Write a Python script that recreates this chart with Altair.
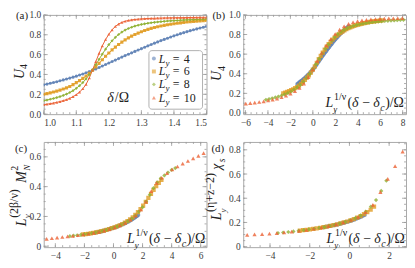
import altair as alt
import pandas as pd

FONT = "Liberation Serif"
TXT = "#222222"
LAB = "#3a3a3a"
FRAME = "#a8a8a8"
TICK = "#9a9a9a"

LY = ["4", "6", "8", "10"]
COLORS = ["#5E81B5", "#E19C24", "#8FB032", "#EB6235"]
SHAPES = ["circle", "square", "diamond", "triangle-up"]

# ---------------- panel (a): U4 vs delta/Omega ----------------
DELTA = [round(1.0 + 0.01 * i, 2) for i in range(51)]
U4 = {
    "4": [0.295, 0.303, 0.311, 0.319, 0.327, 0.336, 0.345, 0.354, 0.363, 0.373,
          0.383, 0.394, 0.405, 0.417, 0.429, 0.442, 0.456, 0.470, 0.485, 0.500,
          0.515, 0.530, 0.545, 0.560, 0.575, 0.590, 0.604, 0.618, 0.632, 0.646,
          0.660, 0.674, 0.688, 0.702, 0.715, 0.728, 0.741, 0.753, 0.765, 0.777,
          0.789, 0.800, 0.811, 0.821, 0.831, 0.841, 0.850, 0.859, 0.868, 0.876,
          0.884],
    "6": [0.200, 0.207, 0.215, 0.223, 0.232, 0.242, 0.253, 0.265, 0.279, 0.297,
          0.318, 0.338, 0.360, 0.384, 0.411, 0.442, 0.476, 0.512, 0.548, 0.583,
          0.616, 0.647, 0.676, 0.702, 0.726, 0.748, 0.768, 0.786, 0.802, 0.817,
          0.830, 0.843, 0.854, 0.864, 0.873, 0.881, 0.888, 0.895, 0.901, 0.906,
          0.911, 0.916, 0.920, 0.924, 0.928, 0.931, 0.934, 0.937, 0.940, 0.942,
          0.945],
    "8": [0.135, 0.142, 0.150, 0.158, 0.167, 0.177, 0.189, 0.202, 0.218, 0.237,
          0.260, 0.287, 0.318, 0.355, 0.398, 0.446, 0.498, 0.552, 0.605, 0.655,
          0.700, 0.740, 0.774, 0.803, 0.827, 0.847, 0.863, 0.876, 0.887, 0.896,
          0.904, 0.910, 0.916, 0.921, 0.925, 0.929, 0.932, 0.935, 0.938, 0.940,
          0.942, 0.944, 0.946, 0.948, 0.950, 0.951, 0.953, 0.954, 0.955, 0.957,
          0.958],
    "10": [0.095, 0.100, 0.106, 0.112, 0.119, 0.127, 0.136, 0.147, 0.160, 0.176,
           0.196, 0.222, 0.256, 0.300, 0.365, 0.445, 0.530, 0.612, 0.688, 0.752,
           0.805, 0.850, 0.884, 0.908, 0.925, 0.936, 0.944, 0.950, 0.954, 0.957,
           0.960, 0.962, 0.964, 0.965, 0.966, 0.967, 0.968, 0.969, 0.970, 0.971,
           0.971, 0.972, 0.972, 0.973, 0.973, 0.974, 0.974, 0.975, 0.975, 0.976,
           0.976],
}

# ---------------- panel (b): scaling collapse of U4 ----------------
NU_INV = 1.6      # 1/nu read from the collapse
DELTA_C = 1.15    # crossing point delta_c / Omega

# ---------------- panel (c): L^(2beta/nu) M_N^2 ----------------
C_X = {
    "4": [-1.2, -1.1, -1.0, -0.9, -0.8, -0.7, -0.6, -0.5, -0.4, -0.3, -0.2, -0.1, 0.0,
          0.1, 0.2, 0.3, 0.4, 0.5, 0.6, 0.7, 0.8, 0.9, 1.0, 1.1, 1.2, 1.3, 1.4, 1.5, 1.6, 1.7],
    "6": [-2.1, -1.92, -1.74, -1.56, -1.38, -1.2, -1.02, -0.84, -0.66, -0.48, -0.3, -0.12,
          0.06, 0.24, 0.42, 0.6, 0.78, 0.96, 1.14, 1.32, 1.5, 1.68, 1.86, 2.04, 2.22, 2.4,
          2.58, 2.76, 2.94, 3.12, 3.3],
    "8": [-3.0, -2.75, -2.5, -2.25, -2.0, -1.75, -1.5, -1.25, -1.0, -0.75, -0.5, -0.25,
          0.0, 0.25, 0.5, 0.75, 1.0, 1.25, 1.5, 1.75, 2.0, 2.25, 2.5, 2.75, 3.0, 3.25,
          3.5, 3.75, 4.0, 4.25],
    "10": [-4.6, -4.24, -3.88, -3.52, -3.16, -2.8, -2.44, -2.08, -1.72, -1.36, -1.0,
           -0.64, -0.28, 0.08, 0.44, 0.8, 1.16, 1.52, 1.88, 2.24, 2.6, 2.96, 3.32, 3.68,
           4.04, 4.4, 4.76, 5.12, 5.48, 5.84, 6.2],
}
C_Y = {
    "4": [0.092, 0.094, 0.096, 0.098, 0.100, 0.103, 0.106, 0.109, 0.112, 0.115, 0.118,
          0.121, 0.124, 0.127, 0.130, 0.134, 0.138, 0.142, 0.146, 0.150, 0.155, 0.160,
          0.165, 0.170, 0.176, 0.182, 0.188, 0.195, 0.202, 0.209],
    "6": [0.080, 0.082, 0.084, 0.087, 0.090, 0.093, 0.097, 0.101, 0.105, 0.110, 0.115,
          0.121, 0.127, 0.134, 0.141, 0.149, 0.158, 0.168, 0.180, 0.194, 0.210, 0.229,
          0.250, 0.273, 0.298, 0.325, 0.352, 0.378, 0.403, 0.425, 0.445],
    "8": [0.068, 0.071, 0.074, 0.077, 0.080, 0.084, 0.088, 0.092, 0.097, 0.103, 0.109,
          0.116, 0.124, 0.133, 0.143, 0.155, 0.168, 0.185, 0.205, 0.232, 0.262, 0.300,
          0.345, 0.390, 0.428, 0.455, 0.475, 0.495, 0.512, 0.525],
    "10": [0.050, 0.054, 0.058, 0.062, 0.066, 0.070, 0.074, 0.079, 0.084, 0.090, 0.097,
           0.105, 0.115, 0.127, 0.140, 0.156, 0.178, 0.205, 0.245, 0.300, 0.370, 0.425,
           0.460, 0.490, 0.515, 0.535, 0.555, 0.572, 0.590, 0.607, 0.625],
}

# ---------------- panel (d): L^(eta+z-2) chi_s ----------------
D_X = {
    "4": [-1.3, -1.21, -1.12, -1.03, -0.94, -0.85, -0.76, -0.67, -0.58, -0.49, -0.4,
          -0.31, -0.22, -0.13, -0.04, 0.05, 0.14, 0.23, 0.32, 0.41, 0.5, 0.59, 0.68, 0.77],
    "6": [-2.5, -2.33, -2.16, -1.99, -1.82, -1.65, -1.48, -1.31, -1.14, -0.97, -0.8,
          -0.63, -0.46, -0.29, -0.12, 0.05, 0.22, 0.39, 0.56, 0.73, 0.9, 1.07, 1.24],
    "8": [-3.6, -3.34, -3.08, -2.82, -2.56, -2.3, -2.04, -1.78, -1.52, -1.26, -1.0,
          -0.74, -0.48, -0.22, 0.04, 0.3, 0.56, 0.82, 1.08, 1.34, 1.6, 1.86],
    "10": [-5.15, -4.78, -4.40, -4.03, -3.66, -3.29, -2.91, -2.54, -2.17, -1.80, -1.42,
           -1.05, -0.68, -0.31, 0.07, 0.44, 0.81, 1.18, 1.56, 1.93, 2.30, 2.68],
}
D_Y = {
    "4": [0.160, 0.163, 0.166, 0.169, 0.172, 0.175, 0.178, 0.181, 0.184, 0.188, 0.192,
          0.196, 0.200, 0.204, 0.208, 0.213, 0.218, 0.223, 0.229, 0.235, 0.241, 0.248,
          0.255, 0.262],
    "6": [0.133, 0.136, 0.139, 0.143, 0.147, 0.151, 0.156, 0.161, 0.166, 0.172, 0.178,
          0.185, 0.192, 0.200, 0.208, 0.218, 0.228, 0.240, 0.253, 0.268, 0.285, 0.305,
          0.330],
    "8": [0.113, 0.117, 0.121, 0.126, 0.131, 0.136, 0.142, 0.148, 0.155, 0.162, 0.171,
          0.180, 0.191, 0.203, 0.218, 0.236, 0.258, 0.290, 0.330, 0.385, 0.460, 0.545],
    "10": [0.098, 0.101, 0.104, 0.108, 0.112, 0.118, 0.124, 0.131, 0.139, 0.148, 0.158,
           0.170, 0.184, 0.200, 0.220, 0.245, 0.285, 0.345, 0.450, 0.560, 0.665, 0.785],
}

# ---------------- tables ----------------
rows_a, rows_b, rows_c, rows_d = [], [], [], []
for ly in LY:
    for d, u in zip(DELTA, U4[ly]):
        rows_a.append({"x": d, "y": u, "Ly": ly})
        xs = (int(ly) ** NU_INV) * (d - DELTA_C)
        if -6.2 <= xs <= 8.3:
            rows_b.append({"x": xs, "y": u, "Ly": ly})
    for xv, yv in zip(C_X[ly], C_Y[ly]):
        rows_c.append({"x": xv, "y": yv, "Ly": ly})
    for xv, yv in zip(D_X[ly], D_Y[ly]):
        rows_d.append({"x": xv, "y": yv, "Ly": ly})
df_a, df_b, df_c, df_d = (pd.DataFrame(r) for r in (rows_a, rows_b, rows_c, rows_d))
ONE = pd.DataFrame({"k": [0]})

W = 164
H1, H2 = 100, 106


def ticks_in(lo, hi, step, dom):
    n = int(round((hi - lo) / step))
    return [round(lo + step * i, 4) for i in range(n + 1) if dom[0] <= lo + step * i <= dom[1]]


def texts(pieces, x0, y0, rotate=False):
    out = []
    for t, dx, dy, size, it in pieces:
        if rotate:
            px, py, ang = x0 + dy, y0 - dx, 270
        else:
            px, py, ang = x0 + dx, y0 + dy, 0
        out.append(
            alt.Chart(ONE).mark_text(
                text=t, font=FONT, fontSize=size, fontStyle="italic" if it else "normal",
                align="left", baseline="alphabetic", angle=ang, color=TXT,
            ).encode(x=alt.value(px), y=alt.value(py))
        )
    return out


def panel(df, xdom, ydom, xmaj, xmin, ymaj, ymin, H, xlab, ylab, lines=False, msize=18, mop=0.8):
    X = alt.X("x:Q", scale=alt.Scale(domain=xdom, nice=False, zero=False),
              axis=alt.Axis(values=xmaj, labelExpr=xlab, title=None, labelFont=FONT,
                            labelFontSize=9.5, labelColor=LAB))
    Y = alt.Y("y:Q", scale=alt.Scale(domain=ydom, nice=False, zero=False),
              axis=alt.Axis(values=ymaj, labelExpr=ylab, title=None, labelFont=FONT,
                            labelFontSize=9.5, labelColor=LAB))
    col = alt.Color("Ly:N", scale=alt.Scale(domain=LY, range=COLORS), legend=None)
    shp = alt.Shape("Ly:N", scale=alt.Scale(domain=LY, range=SHAPES), legend=None)
    layers = []
    for vals, L in ((xmaj, 4), (xmin, 2)):
        base = alt.Chart(pd.DataFrame({"x": vals})).mark_rule(color=TICK, strokeWidth=0.8)
        layers.append(base.encode(x=X, y=alt.value(H), y2=alt.value(H - L)))
        layers.append(base.encode(x=X, y=alt.value(0), y2=alt.value(L)))
    for vals, L in ((ymaj, 4), (ymin, 2)):
        base = alt.Chart(pd.DataFrame({"y": vals})).mark_rule(color=TICK, strokeWidth=0.8)
        layers.append(base.encode(y=Y, x=alt.value(0), x2=alt.value(L)))
        layers.append(base.encode(y=Y, x=alt.value(W), x2=alt.value(W - L)))
    if lines:
        layers.append(alt.Chart(df).mark_line(strokeWidth=1, clip=True).encode(
            x=X, y=Y, color=col, detail="Ly:N"))
    layers.append(alt.Chart(df).mark_point(filled=True, size=msize, opacity=mop, clip=True).encode(
        x=X, y=Y, color=col, shape=shp))
    return layers


F1 = "format(datum.value, '.1f')"
FD = "format(datum.value, 'd')"
F0 = "datum.value == 0 ? '0' : format(datum.value, '.1f')"

U4_T = [("U", 0, 0, 14, True), ("4", 10, 3.5, 10, False)]
XT = [("L", 0, 0, 14, True), ("y", 7.6, 4.5, 9, True), ("1/ν", 8.4, -7.5, 10, False),
      ("(", 22, 0, 14, False), ("δ", 26.5, 0, 14, True), ("−", 37, 0, 14, False),
      ("δ", 48, 0, 14, True), ("c", 55, 3.5, 10, True), (")", 60, 0, 14, False),
      ("/", 64.5, 0, 14, False), ("Ω", 68.5, 0, 14, False)]

# ---- (a)
dom_ax, dom_ay = [1.0, 1.5], [0.0, 1.0]
la = panel(df_a, dom_ax, dom_ay, ticks_in(1.0, 1.5, 0.1, dom_ax), ticks_in(1.0, 1.5, 0.02, dom_ax),
           ticks_in(0, 1, 0.2, dom_ay), ticks_in(0, 1, 0.05, dom_ay), H1, F1, F1,
           lines=True, msize=10, mop=0.9)
la += texts([("(a)", 0, 0, 11, False)], -28, 4)
la += texts(U4_T, -20, 64.5, rotate=True)
la += texts([("δ", 0, 0, 14, True), ("/", 7.5, 0, 14, False), ("Ω", 11.5, 0, 14, False)], 64, 88)
la.append(alt.Chart(ONE).mark_rect(fill="white", stroke="#b0b0b0", strokeWidth=1, cornerRadius=3)
          .encode(x=alt.value(106), x2=alt.value(160), y=alt.value(36), y2=alt.value(95)))
for i, (ly, yy) in enumerate(zip(LY, [44, 57, 70, 83.5])):
    la.append(alt.Chart(ONE).mark_point(shape=SHAPES[i], filled=True, color=COLORS[i], size=16, opacity=0.6)
              .encode(x=alt.value(111), y=alt.value(yy)))
    la += texts([("L", 0, 0, 12, True), ("y", 6.8, 3, 9, True), ("=", 14, 0, 12, False),
                 (ly, 25, 0, 12, False)], 116, yy + 4)
pa = alt.layer(*la).properties(width=W, height=H1)

# ---- (b)
dom_bx, dom_by = [-6.2, 8.3], [-0.012, 1.0]
lb = panel(df_b, dom_bx, dom_by, ticks_in(-6, 8, 2, dom_bx), ticks_in(-6, 8, 0.5, dom_bx),
           ticks_in(0, 1, 0.2, dom_by), ticks_in(0, 1, 0.05, dom_by), H1, FD, F1)
lb += texts([("(b)", 0, 0, 11, False)], -31, 4)
lb += texts(U4_T, -22, 66.5, rotate=True)
lb += texts(XT, W - 81, H1 - 7)
pb = alt.layer(*lb).properties(width=W, height=H1)

# ---- (c)
dom_cx, dom_cy = [-4.8, 6.4], [-0.006, 0.70]
lc = panel(df_c, dom_cx, dom_cy, ticks_in(-4, 6, 2, dom_cx), ticks_in(-4.5, 6, 0.5, dom_cx),
           ticks_in(0, 0.6, 0.2, dom_cy), ticks_in(0, 0.7, 0.05, dom_cy), H2, FD, F0)
lc += texts([("(c)", 0, 0, 11, False)], -29, 10)
lc += texts([("L", 0, 0, 14, True), ("y", 8, 4.5, 9, True), ("(2β/ν)", 8.5, -7.5, 12, False),
             ("M", 44, 0, 14, True), ("N", 56, 4.5, 9, True), ("2", 56, -7.5, 10, False)],
            -18, 85, rotate=True)
lc += texts(XT, W - 80, H2 - 4)
pc = alt.layer(*lc).properties(width=W, height=H2)

# ---- (d)
dom_dx, dom_dy = [-5.35, 2.85], [-0.004, 0.865]
ld = panel(df_d, dom_dx, dom_dy, ticks_in(-4, 2, 2, dom_dx), ticks_in(-5, 2.5, 0.5, dom_dx),
           ticks_in(0, 0.8, 0.2, dom_dy), ticks_in(0, 0.85, 0.05, dom_dy), H2, FD, F0)
ld += texts([("(d)", 0, 0, 11, False)], -32, 10)
ld += texts([("L", 0, 0, 14, True), ("y", 8, 4.5, 9, True), ("(η+z−2)", 8.5, -7.5, 12, False),
             ("χ", 51, 0, 14, True), ("s", 58.5, 3.5, 10, True)],
            -22, 79, rotate=True)
ld += texts(XT, W - 80, H2 - 4)
pd_ = alt.layer(*ld).properties(width=W, height=H2)

chart = alt.concat(
    pa, pb, pc, pd_, columns=2, spacing={"row": 28, "column": 37}, bounds="flush"
).properties(
    padding={"left": 0, "top": 0, "right": 0, "bottom": 0}
).configure_view(
    stroke=FRAME, strokeWidth=1
).configure_axis(
    labelFont=FONT, labelFontSize=9.5, labelColor=LAB, ticks=False, tickSize=0,
    domain=False, grid=False, labelPadding=3
)

chart.save("out.html", embed_options={"renderer": "svg", "actions": False})
